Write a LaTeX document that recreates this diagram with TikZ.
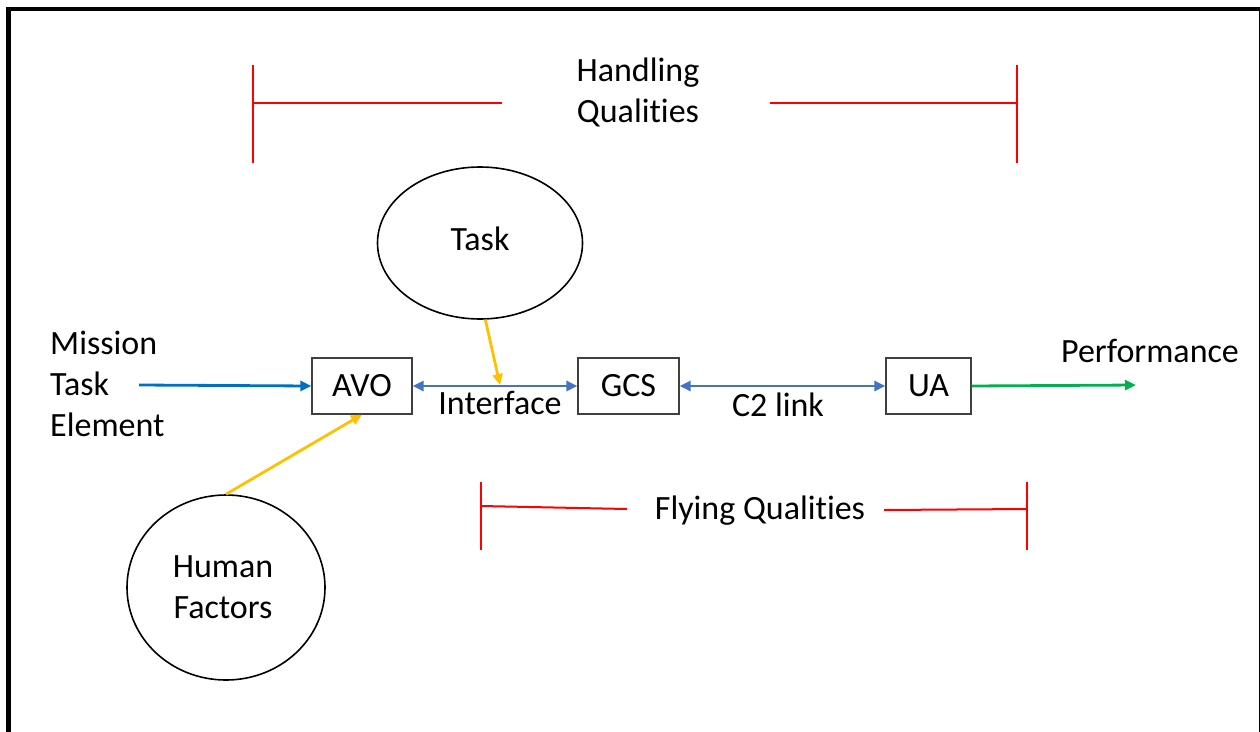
\documentclass[tikz,border=0pt]{standalone}
\usepackage{fontspec}
\setmainfont[Ligatures=NoCommon]{Carlito}
\usetikzlibrary{arrows.meta,shapes.geometric,calc}
\definecolor{mteblue}{HTML}{0070C0}
\definecolor{linkblue}{HTML}{4472C4}
\definecolor{perfgreen}{HTML}{00B050}
\definecolor{hfyellow}{HTML}{FFC000}
\definecolor{qred}{HTML}{FF0000}
\begin{document}
\begin{tikzpicture}[x=1pt,y=-1pt,
  font=\fontsize{34}{41}\selectfont,
  block/.style={draw=black!75,line width=1.2pt,inner sep=0pt,minimum height=56pt},
  oval/.style={ellipse,draw=black,line width=1.6pt,inner sep=0pt},
  lbl/.style={inner sep=0pt,align=center},
  tip/.style={-{Triangle[length=11pt,width=10pt]}},
  dtip/.style={{Triangle[length=11pt,width=10pt]}-{Triangle[length=11pt,width=10pt]}},
  qual/.style={draw=qred,line width=2pt}]
\useasboundingbox (0,0) rectangle (1260,731);
% frame
\draw[line width=4.5pt] (8.5,760) -- (8.5,9) -- (1260.8,9) -- (1260.8,760);

% handling qualities
\node[lbl] (hq) at (638,92) {Handling\\Qualit\kern0pt ies};
\coordinate (hqL) at (253,103);
\coordinate (hqR) at (1017,103);
\draw[qual] ($(hqL)+(0,-38)$) -- ($(hqL)+(0,60)$);
\draw[qual] (hqL) -- (502,103);
\draw[qual] (770,103) -- (hqR);
\draw[qual] ($(hqR)+(0,-38)$) -- ($(hqR)+(0,60)$);

% task
\node[oval,minimum width=205pt,minimum height=152pt] (task) at (480,243) {\raisebox{8pt}{Task}};

% main chain
\node[block,minimum width=100pt] (avo) at (362,386) {AVO};
\node[block,minimum width=101pt] (gcs) at (628.5,386) {GCS};
\node[block,minimum width=85pt] (ua) at (928.5,386) {UA};

\node[lbl,align=left,anchor=west] (mte) at (50,384) {Mission\\Task\\Element};
\coordinate (mteS) at (139,385);
\draw[tip,mteblue,line width=2.8pt] (mteS) -- (avo.west);

\draw[dtip,linkblue,line width=2.8pt] (avo.east) -- (gcs.west);
\node[lbl] (intf) at (500,403) {Interface};
\draw[dtip,linkblue,line width=2.8pt] (gcs.east) -- (ua.west);
\node[lbl] (c2) at (778,405) {C2 link};

\node[lbl] (perf) at (1150,351) {Performance};
\coordinate (perfE) at (1136,385);
\draw[tip,perfgreen,line width=2.8pt] (ua.east) -- (perfE);

% task -> interface
\coordinate (ti) at (500,385);
\draw[tip,hfyellow,line width=2.8pt] (task.-86) -- (ti);

% human factors
\node[oval,minimum width=198pt,minimum height=185pt,align=center] (hf) at (226,587.5) {\kern-6pt Human\\\kern-6pt Factors};
\draw[tip,hfyellow,line width=2.8pt] (hf.north) -- (avo.south);

% flying qualities
\node[lbl] (fq) at (760,511) {Flying Qualit\kern0pt ies};
\coordinate (fqL) at (481,506);
\coordinate (fqR) at (1027,509);
\draw[qual] (481,482) -- (481,550);
\draw[qual] (fqL) -- (627,509);
\draw[qual] (884,510) -- (fqR);
\draw[qual] (1027,482) -- (1027,550);
\end{tikzpicture}
\end{document}
